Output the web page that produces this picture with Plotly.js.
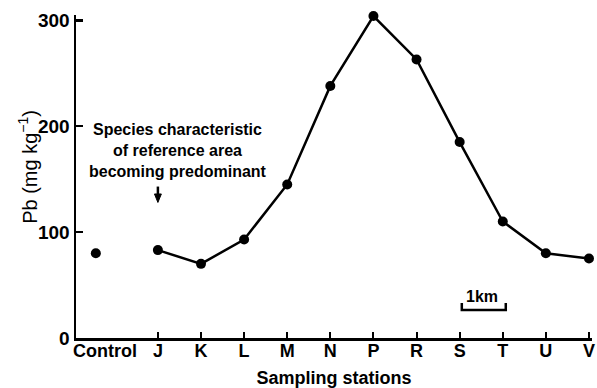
<!DOCTYPE html>
<html>
<head>
<meta charset="utf-8">
<script src="https://cdn.plot.ly/plotly-3.0.1.min.js"></script>
<style>html,body{margin:0;padding:0;background:#fff;}#chart{width:597px;height:388px;}</style>
</head>
<body>
<div id="chart"></div>
<script>
// ---- data ----
const stations = ['J', 'K', 'L', 'M', 'N', 'P', 'R', 'S', 'T', 'U', 'V'];
const pbValues = [83, 70, 93, 145, 238, 304, 263, 185, 110, 80, 75];
const controlLabel = 'Control';
const controlValue = [80];
const yTickVals = [0, 100, 200, 300];
const noteText = 'Species characteristic<br>of reference area<br>becoming predominant';
const scaleText = '1km';
const yTitle = 'Pb (mg kg<sup>−1</sup>)';
const xTitle = 'Sampling stations';

// ---- layout constants ----
const CONTROL_POS = -1.44;
const CONTROL_LABEL_POS = -1.23;
const XR = [-1.9, 10.07];
const YR = [0, 305];
const FONT = 'Liberation Sans, Arial, sans-serif';
const stationPos = stations.map((s, i) => i);

const traces = [
  {
    x: stationPos, y: pbValues,
    mode: 'lines+markers', type: 'scatter',
    line: {color: '#000', width: 2.5},
    marker: {color: '#000', size: 10},
    cliponaxis: false, hoverinfo: 'skip', showlegend: false
  },
  {
    x: [CONTROL_POS], y: controlValue,
    mode: 'markers', type: 'scatter',
    marker: {color: '#000', size: 10},
    cliponaxis: false, hoverinfo: 'skip', showlegend: false
  }
];

const layout = {
  width: 597, height: 388,
  margin: {l: 76, r: 5, t: 15, b: 50, pad: 0},
  paper_bgcolor: '#fff', plot_bgcolor: '#fff',
  font: {family: FONT, color: '#000'},
  xaxis: {
    range: XR, showgrid: false, zeroline: false,
    showline: true, linecolor: '#000', linewidth: 2.5,
    tickmode: 'array',
    tickvals: [CONTROL_LABEL_POS].concat(stationPos),
    ticktext: [controlLabel].concat(stations),
    ticks: '', ticklabelstandoff: -5,
    tickfont: {family: FONT, size: 18, weight: 'bold', color: '#000'},
    minor: {tickmode: 'array', tickvals: stationPos, ticks: 'inside', ticklen: 6, tickwidth: 2, tickcolor: '#000', showgrid: false},
    title: {text: xTitle, font: {family: FONT, size: 18, weight: 'bold', color: '#000'}, standoff: 13}
  },
  yaxis: {
    range: YR, showgrid: false, zeroline: false,
    showline: true, linecolor: '#000', linewidth: 2.5,
    tickmode: 'array', tickvals: yTickVals, ticks: 'inside', ticklen: 7, tickwidth: 2.5, tickcolor: '#000',
    tickfont: {family: FONT, size: 19, weight: 'bold', color: '#000'}
  },
  shapes: [
    // scale bar bracket
    {type: 'path', xref: 'x', yref: 'y',
     path: 'M 7.05 33 L 7.05 26.4 L 8.07 26.4 L 8.07 33',
     line: {color: '#000', width: 2.5}},
    // arrow shaft
    {type: 'line', xref: 'x', yref: 'y', x0: 0, x1: 0, y0: 143, y1: 134,
     line: {color: '#000', width: 2.5}},
    // arrow head
    {type: 'path', xref: 'x', yref: 'y',
     path: 'M -0.08 136 L 0.08 136 L 0 128 Z',
     fillcolor: '#000', line: {color: '#000', width: 1}}
  ],
  annotations: [
    {text: yTitle, xref: 'paper', yref: 'paper', x: -0.093, y: 0.53,
     xanchor: 'center', yanchor: 'middle', textangle: -90, showarrow: false,
     font: {family: FONT, size: 20, color: '#000'}},
    {text: noteText, xref: 'x', yref: 'y', x: 0.46, y: 177, showarrow: false,
     align: 'center', font: {family: FONT, size: 16, weight: 'bold', color: '#000'}},
    {text: scaleText, xref: 'x', yref: 'y', x: 7.52, y: 39, showarrow: false,
     font: {family: FONT, size: 16, weight: 'bold', color: '#000'}}
  ]
};

Plotly.newPlot('chart', traces, layout, {staticPlot: true, displayModeBar: false});
</script>
</body>
</html>
